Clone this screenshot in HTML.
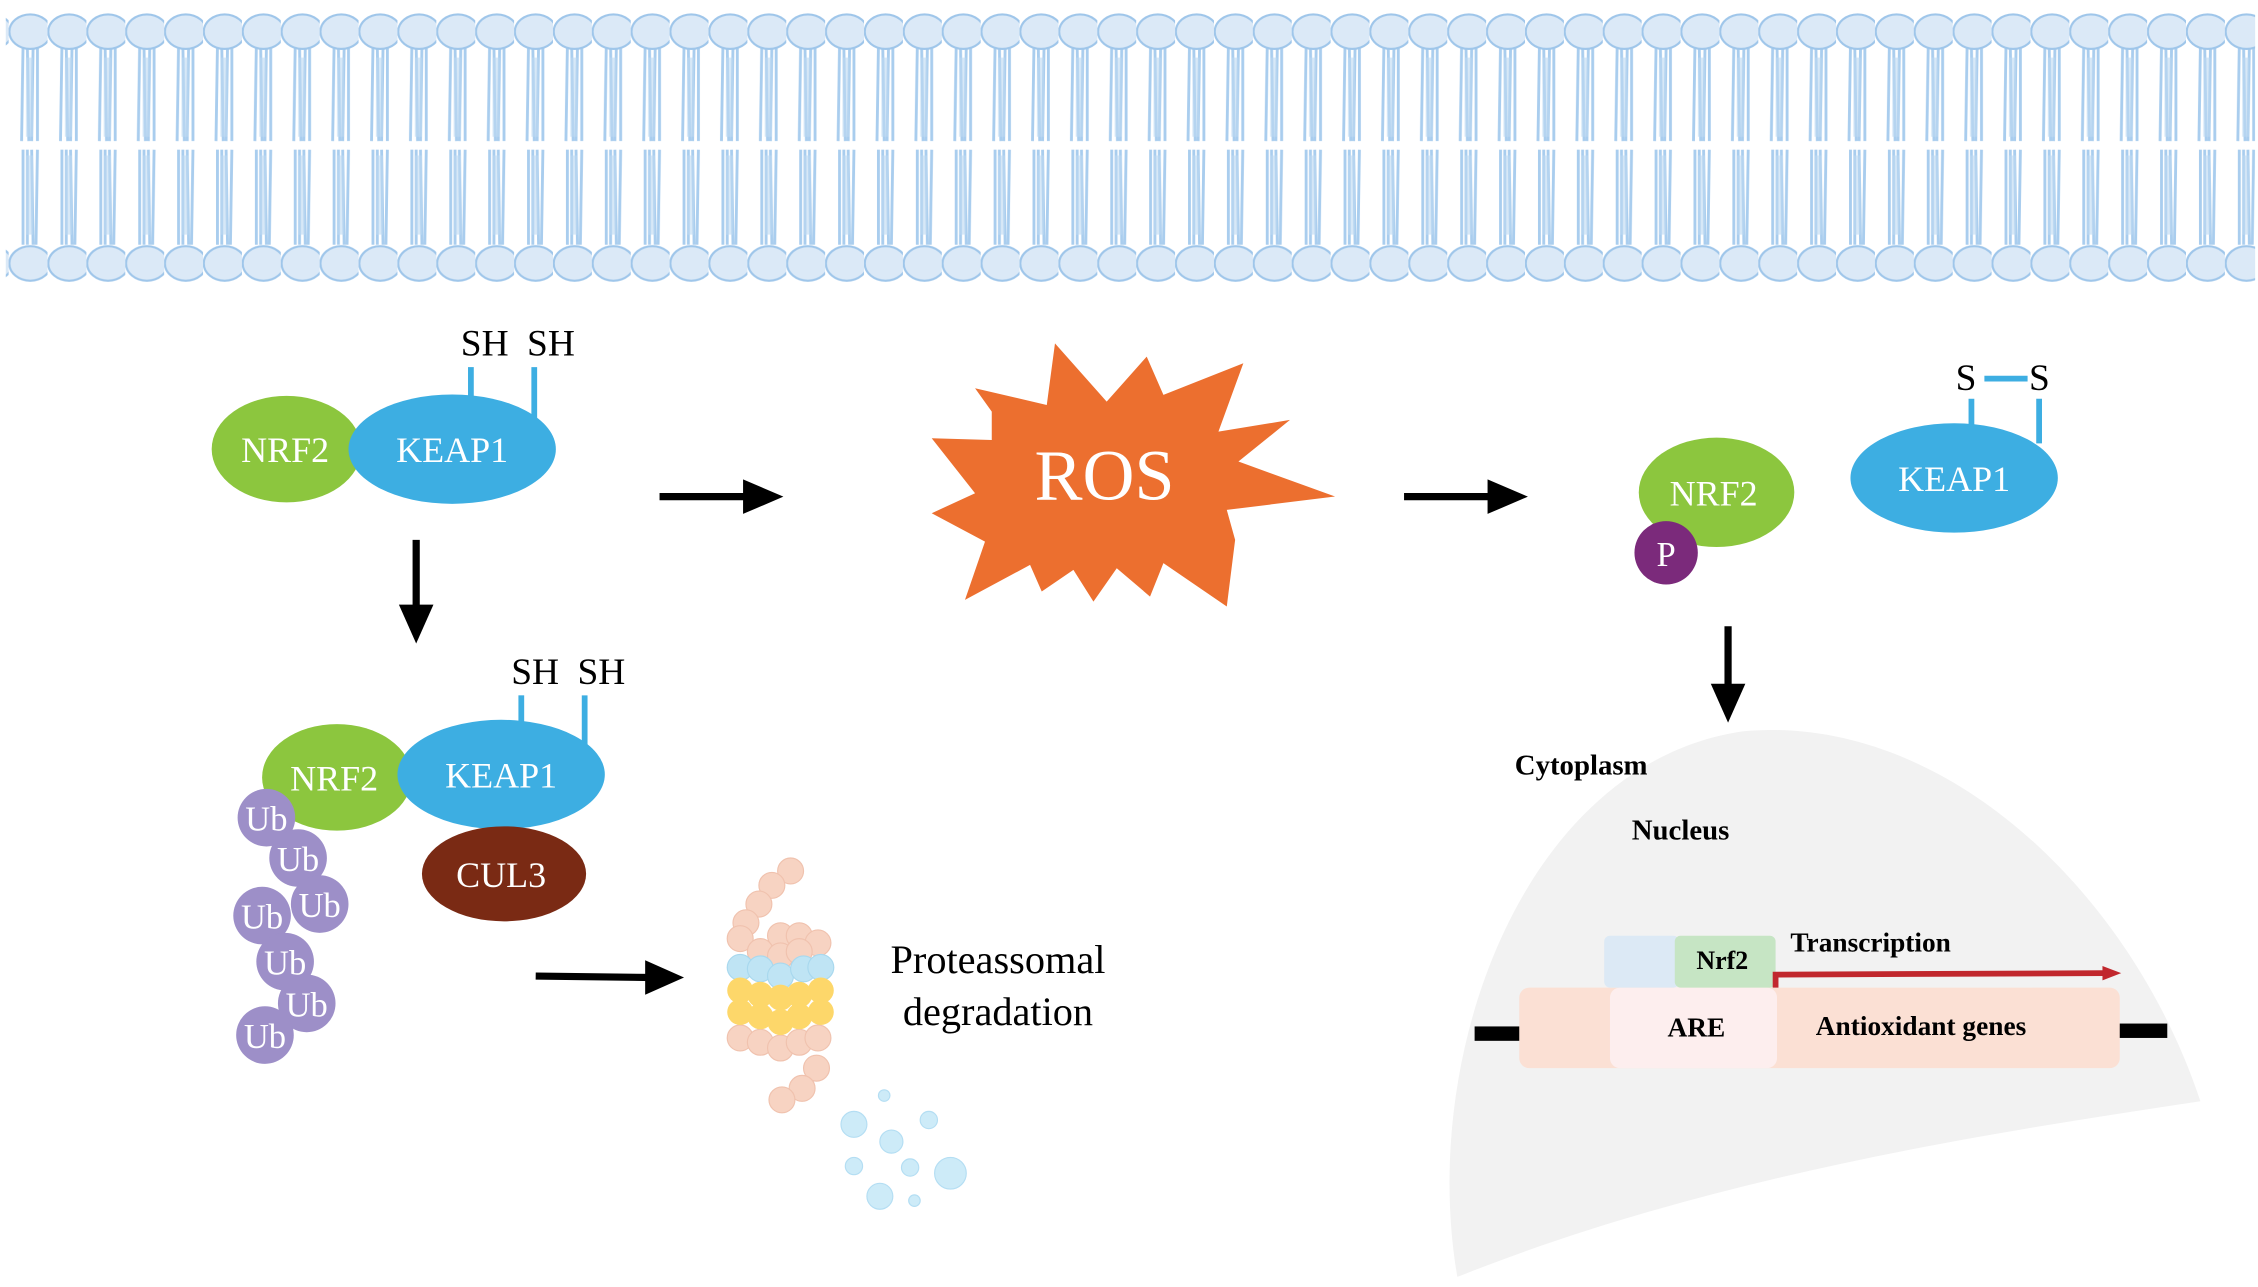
<!DOCTYPE html>
<html><head><meta charset="utf-8"><style>
html,body{margin:0;padding:0;background:#fff;}
svg{display:block;}
text{font-family:"Liberation Serif",serif;}
</style></head><body>
<svg width="2258" height="1287" viewBox="0 0 1568 894" preserveAspectRatio="none" xmlns="http://www.w3.org/2000/svg">
<defs>
<pattern id="mem" x="6" y="0" width="27" height="210" patternUnits="userSpaceOnUse">
 <g stroke="#a9cdee" stroke-width="2" fill="none">
  <path d="M10,32 L9,98 M13,32 L14,98 M17,32 L16,98 M20,32 L20,98"/>
  <path d="M10,104 L10,170 M13,104 L13,170 M16,104 L17,170 M20,104 L19,170"/>
 </g>
 <rect x="12" y="40" width="5" height="55" fill="#bcd8f2" opacity="0.6"/>
 <rect x="12" y="108" width="5" height="55" fill="#bcd8f2" opacity="0.6"/>
 <ellipse cx="15" cy="22" rx="14.5" ry="12" fill="#dbe9f7" stroke="#9fc6ea" stroke-width="1.5"/>
 <ellipse cx="15" cy="183" rx="14.5" ry="12" fill="#dbe9f7" stroke="#9fc6ea" stroke-width="1.5"/>
</pattern>
<marker id="ah" markerWidth="10" markerHeight="10" refX="2" refY="5" orient="auto" markerUnits="userSpaceOnUse" viewBox="0 0 10 10">
</marker>
</defs>
<rect x="4" y="0" width="1562" height="205" fill="url(#mem)"/>

<!-- Top-left complex -->
<g stroke="#3daee2" stroke-width="4"><line x1="327" y1="255" x2="327" y2="278"/><line x1="371" y1="255" x2="371" y2="292"/></g>
<text x="320" y="247" font-size="26">SH</text><text x="366" y="247" font-size="26">SH</text>
<ellipse cx="199" cy="312" rx="52" ry="37" fill="#8cc63e"/>
<ellipse cx="314" cy="312" rx="72" ry="38" fill="#3daee2"/>
<text x="198" y="321" font-size="25" fill="#fff" text-anchor="middle">NRF2</text>
<text x="314" y="321" font-size="25" fill="#fff" text-anchor="middle">KEAP1</text>

<!-- arrows -->
<g stroke="#000" stroke-width="5">
<line x1="289" y1="375" x2="289" y2="425"/>
<line x1="458" y1="345" x2="520" y2="345"/>
<line x1="975" y1="345" x2="1037" y2="345"/>
<line x1="1200" y1="435" x2="1200" y2="480"/>
<line x1="372" y1="678" x2="452" y2="679"/>
</g>
<g fill="#000">
<polygon points="277,420 301,420 289,447"/>
<polygon points="516,333 516,357 544,345"/>
<polygon points="1033,333 1033,357 1061,345"/>
<polygon points="1188,475 1212,475 1200,502"/>
<polygon points="448,667 448,691 475,679"/>
</g>

<!-- ROS -->
<polygon fill="#ec6f2f" points="732.6,238.5 768.5,279 796.3,247.7 807.9,274.3 863.4,252.3 846.1,299.8 895.8,291.7 860,320.6 927.1,344.9 851.9,354.2 857.7,375 851.9,421.3 807.9,391.2 798.6,414.4 775.5,394.7 759.3,417.9 745.4,395.9 723.4,410.9 715.3,392.4 670.1,416.7 684,376.2 647,356.5 677.1,342.6 647,304.4 688.7,305.6 688.7,285.9 677.1,269.7 726.9,281.3"/>
<text x="767" y="347" font-size="50" fill="#fff" text-anchor="middle">ROS</text>

<!-- right complex -->
<ellipse cx="1192" cy="342" rx="54" ry="38" fill="#8cc63e"/>
<text x="1190" y="351" font-size="25" fill="#fff" text-anchor="middle">NRF2</text>
<circle cx="1157" cy="384" r="22" fill="#7b2a7b"/>
<text x="1157" y="393" font-size="24" fill="#fff" text-anchor="middle">P</text>
<g stroke="#3daee2" stroke-width="4"><line x1="1369" y1="277" x2="1369" y2="295"/><line x1="1416" y1="277" x2="1416" y2="308"/><line x1="1378" y1="263" x2="1408" y2="263"/></g>
<text x="1358" y="271" font-size="26">S</text><text x="1409" y="271" font-size="26">S</text>
<ellipse cx="1357" cy="332" rx="72" ry="38" fill="#3daee2"/>
<text x="1357" y="341" font-size="25" fill="#fff" text-anchor="middle">KEAP1</text>

<!-- lower complex -->
<g stroke="#3daee2" stroke-width="4"><line x1="362" y1="483" x2="362" y2="505"/><line x1="406" y1="483" x2="406" y2="518"/></g>
<text x="355" y="475" font-size="26">SH</text><text x="401" y="475" font-size="26">SH</text>
<ellipse cx="234" cy="540" rx="52" ry="37" fill="#8cc63e"/>
<ellipse cx="348" cy="538" rx="72" ry="38" fill="#3daee2"/>
<text x="232" y="549" font-size="25" fill="#fff" text-anchor="middle">NRF2</text>
<text x="348" y="547" font-size="25" fill="#fff" text-anchor="middle">KEAP1</text>
<ellipse cx="350" cy="607" rx="57" ry="33" fill="#7a2a14"/>
<text x="348" y="616" font-size="25" fill="#fff" text-anchor="middle">CUL3</text>
<g fill="#9d8fc8">
<circle cx="185" cy="568" r="20"/><circle cx="207" cy="596" r="20"/><circle cx="222" cy="628" r="20"/><circle cx="182" cy="636" r="20"/><circle cx="198" cy="668" r="20"/><circle cx="213" cy="697" r="20"/><circle cx="184" cy="719" r="20"/>
</g>
<g font-size="24" fill="#fff" text-anchor="middle">
<text x="185" y="577">Ub</text><text x="207" y="605">Ub</text><text x="222" y="637">Ub</text><text x="182" y="645">Ub</text><text x="198" y="677">Ub</text><text x="213" y="706">Ub</text><text x="184" y="728">Ub</text>
</g>

<!-- proteasome -->
<g fill="#f7d3c2" stroke="#f0c2ae" stroke-width="0.8">
<circle cx="549" cy="605" r="9"/><circle cx="536" cy="615" r="9"/><circle cx="527" cy="628" r="9"/><circle cx="518" cy="641" r="9"/>
<circle cx="514" cy="652" r="9"/><circle cx="542" cy="650" r="9"/><circle cx="555" cy="650" r="9"/><circle cx="568" cy="655" r="9"/>
<circle cx="528" cy="661" r="9"/><circle cx="542" cy="664" r="9"/><circle cx="555" cy="661" r="9"/>
<circle cx="514" cy="721" r="9"/><circle cx="528" cy="724" r="9"/><circle cx="542" cy="728" r="9"/><circle cx="555" cy="724" r="9"/><circle cx="568" cy="721" r="9"/>
<circle cx="567" cy="742" r="9"/><circle cx="557" cy="756" r="9"/><circle cx="543" cy="764" r="9"/>
</g>
<g fill="#bfe4f4" stroke="#a8d8ee" stroke-width="0.8">
<circle cx="514" cy="672" r="9"/><circle cx="528" cy="673" r="9"/><circle cx="542" cy="678" r="9"/><circle cx="558" cy="673" r="9"/><circle cx="570" cy="672" r="9"/>
</g>
<g fill="#fdd76a">
<circle cx="514" cy="688" r="9"/><circle cx="528" cy="691" r="9"/><circle cx="542" cy="693" r="9"/><circle cx="555" cy="691" r="9"/><circle cx="570" cy="688" r="9"/>
<circle cx="514" cy="703" r="9"/><circle cx="528" cy="706" r="9"/><circle cx="542" cy="710" r="9"/><circle cx="555" cy="706" r="9"/><circle cx="570" cy="703" r="9"/>
</g>
<g fill="#cdebf8" stroke="#b4def3" stroke-width="0.8">
<circle cx="614" cy="761" r="4"/><circle cx="593" cy="781" r="9"/><circle cx="645" cy="778" r="6"/><circle cx="619" cy="793" r="8"/><circle cx="593" cy="810" r="6"/><circle cx="632" cy="811" r="6"/><circle cx="660" cy="815" r="11"/><circle cx="611" cy="831" r="9"/><circle cx="635" cy="834" r="4"/>
</g>
<text x="693" y="676" font-size="28" text-anchor="middle">Proteassomal</text>
<text x="693" y="712" font-size="28" text-anchor="middle">degradation</text>

<!-- nucleus -->
<path d="M1012,887 C985,730 1060,530 1210,508 C1350,495 1480,620 1528,765 C1360,790 1180,820 1012,887 Z" fill="#f2f2f2"/>
<text x="1098" y="538" font-size="20" font-weight="bold" text-anchor="middle">Cytoplasm</text>
<text x="1167" y="583" font-size="20" font-weight="bold" text-anchor="middle">Nucleus</text>
<rect x="1024" y="713" width="32" height="10" fill="#000"/>
<rect x="1470" y="711" width="35" height="10" fill="#000"/>
<rect x="1055" y="686" width="417" height="56" rx="7" fill="#fbe0d4"/>
<rect x="1118" y="686" width="116" height="56" rx="7" fill="#fdeeee"/>
<rect x="1114" y="650" width="52" height="36" rx="4" fill="#dce9f5"/>
<rect x="1163" y="650" width="70" height="36" rx="4" fill="#c6e5c4"/>
<text x="1196" y="673" font-size="18" font-weight="bold" text-anchor="middle">Nrf2</text>
<text x="1178" y="720" font-size="19" font-weight="bold" text-anchor="middle">ARE</text>
<text x="1334" y="719" font-size="19" font-weight="bold" text-anchor="middle">Antioxidant genes</text>
<text x="1299" y="661" font-size="19" font-weight="bold" text-anchor="middle">Transcription</text>
<path d="M1233,686 L1233,677 L1462,676" stroke="#c1272d" stroke-width="4" fill="none"/>
<polygon points="1460,671 1473,676 1460,681" fill="#c1272d"/>
</svg>
</body></html>
